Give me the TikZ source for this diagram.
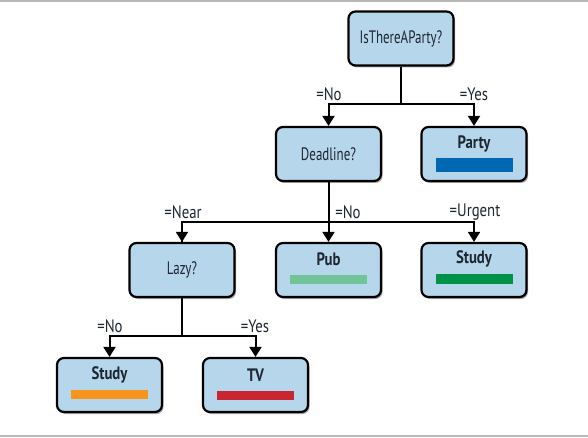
\documentclass[tikz,border=0pt]{standalone}
\usepackage{fontspec}
\setmainfont[FakeStretch=0.82]{PT Sans}
\newfontfamily\decfont[FakeStretch=0.72]{PT Sans}
\usetikzlibrary{arrows.meta,shadows}
\definecolor{boxfill}{RGB}{182,214,236}
\definecolor{txt}{RGB}{30,38,50}
\definecolor{cparty}{RGB}{0,104,178}
\definecolor{cpub}{RGB}{112,196,152}
\definecolor{cstudyg}{RGB}{0,146,72}
\definecolor{cstudyo}{RGB}{247,148,30}
\definecolor{ctv}{RGB}{200,38,48}
\tikzset{
  treebox/.style={draw=black, line width=2.2pt, rounded corners=7pt, fill=boxfill,
    minimum width=105pt, minimum height=54pt, inner sep=0pt, text=txt,
    drop shadow={shadow xshift=1.5pt, shadow yshift=-2pt, opacity=0.35, fill=black},
    font=\decfont\fontsize{18}{20}\selectfont},
  leaftitle/.style={font=\fontsize{18}{20}\selectfont\bfseries, inner sep=0pt, text=txt},
  leafbar/.style={inner sep=0pt, minimum width=77pt, minimum height=9pt},
  edgelabel/.style={font=\fontsize{18}{20}\selectfont, inner sep=0pt, text=txt},
  conn/.style={line width=2pt},
  arrowconn/.style={line width=2pt, -{Triangle[width=12pt,length=10pt]}},
}
\begin{document}
\begin{tikzpicture}[x=1pt,y=-1pt]
\useasboundingbox (0,0) rectangle (588,438);
\draw[gray!55, line width=2pt] (0,1) -- (588,1);
\draw[gray!55, line width=2pt] (0,436) -- (588,436);

% decision nodes
\node[treebox] (party) at (401,38.5) {IsThereAParty?};
\node[treebox] (deadline) at (328.5,154) {Deadline?};
\node[treebox] (lazy) at (182,270) {Lazy?};

% leaf nodes
\node[treebox] (partyleaf) at (474,154) {};
\node[leaftitle] (partytitle) at (474,144) {Party};
\node[leafbar, fill=cparty, minimum height=14pt] (partybar) at (474.5,165) {};

\node[treebox] (pub) at (328.5,270) {};
\node[leaftitle] (pubtitle) at (328.5,259) {Pub};
\node[leafbar, fill=cpub] (pubbar) at (328.5,279) {};

\node[treebox] (studyg) at (474,270) {};
\node[leaftitle] (studygtitle) at (474,259) {Study};
\node[leafbar, fill=cstudyg, minimum height=10pt] (studygbar) at (474,279) {};

\node[treebox] (studyo) at (109.5,385) {};
\node[leaftitle] (studyotitle) at (109.5,375) {Study};
\node[leafbar, fill=cstudyo] (studyobar) at (109.5,394.5) {};

\node[treebox] (tv) at (255.5,385) {};
\node[leaftitle] (tvtitle) at (255.5,375) {TV};
\node[leafbar, fill=ctv] (tvbar) at (255.5,395) {};

% junctions
\coordinate (j1) at (401,104);
\coordinate (j2) at (328.5,222);
\coordinate (j3) at (182,336);

\draw[conn] (party.south) -- (j1);
\draw[arrowconn] (j1) -| (deadline.north);
\draw[arrowconn] (j1) -| (partyleaf.north);

\draw[conn] (j2) -| (lazy.north);
\draw[arrowconn] (j2 -| lazy.north) -- (lazy.north);
\draw[arrowconn] (deadline.south) -- (pub.north);
\draw[arrowconn] (j2) -| (studyg.north);

\draw[conn] (lazy.south) -- (j3);
\draw[arrowconn] (j3) -| (studyo.north);
\draw[arrowconn] (j3) -| (tv.north);

% labels
\node[edgelabel] (l1) at (329,94) {=No};
\node[edgelabel] (l2) at (474,94) {=Yes};
\node[edgelabel] (l3) at (183,212) {=Near};
\node[edgelabel] (l4) at (348,212) {=No};
\node[edgelabel] (l5) at (475,212) {=Urgent};
\node[edgelabel] (l6) at (110,326) {=No};
\node[edgelabel] (l7) at (255,326) {=Yes};
\end{tikzpicture}
\end{document}
